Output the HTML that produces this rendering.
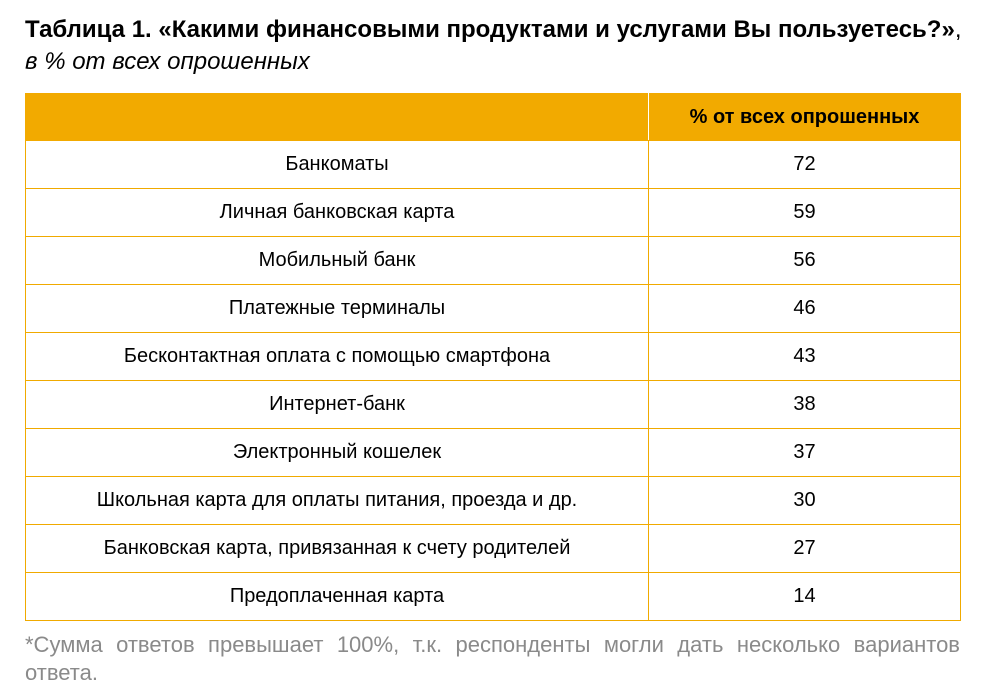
<!DOCTYPE html>
<html><head><meta charset="utf-8"><style>
body{margin:0;width:986px;height:699px;background:#fff;font-family:"Liberation Sans",sans-serif;position:relative;overflow:hidden}
.t{position:absolute;left:25px;top:16px;font-size:24px;font-weight:bold;color:#000;white-space:nowrap}
.s{position:absolute;left:25px;top:48px;font-size:24px;font-style:italic;color:#000}
table{position:absolute;left:25px;top:93px;border-collapse:collapse;width:936px}
td{border:1px solid #F0AA00;height:47px;padding:0;text-align:center;font-size:20px;color:#000}
td.a{width:622px}
tr.h td{background:#F2AA00;font-weight:bold;border-color:#F2AA00 #fff #F2AA00 #F2AA00;height:46px}
tr.h td.b{border-left:1px solid #fff;border-right-color:#F2AA00}
.f{position:absolute;left:25px;top:631px;width:935px;font-size:22px;color:#8a8a8a;text-align:justify;line-height:28px;text-align-last:left}
</style></head><body>
<div class="t">Таблица 1. «Какими финансовыми продуктами и услугами Вы пользуетесь?»<span style="font-weight:normal">,</span></div>
<div class="s">в % от всех опрошенных</div>
<table>
<tr class="h"><td class="a"></td><td class="b">% от всех опрошенных</td></tr>
<tr><td class="a">Банкоматы</td><td>72</td></tr>
<tr><td class="a">Личная банковская карта</td><td>59</td></tr>
<tr><td class="a">Мобильный банк</td><td>56</td></tr>
<tr><td class="a">Платежные терминалы</td><td>46</td></tr>
<tr><td class="a">Бесконтактная оплата с помощью смартфона</td><td>43</td></tr>
<tr><td class="a">Интернет-банк</td><td>38</td></tr>
<tr><td class="a">Электронный кошелек</td><td>37</td></tr>
<tr><td class="a">Школьная карта для оплаты питания, проезда и др.</td><td>30</td></tr>
<tr><td class="a">Банковская карта, привязанная к счету родителей</td><td>27</td></tr>
<tr><td class="a">Предоплаченная карта</td><td>14</td></tr>
</table>
<div class="f">*Сумма ответов превышает 100%, т.к. респонденты могли дать несколько вариантов ответа.</div>
</body></html>
